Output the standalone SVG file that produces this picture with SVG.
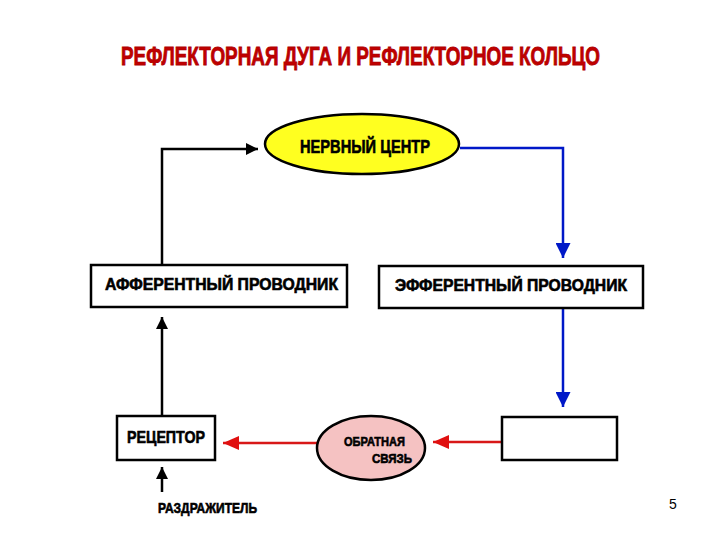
<svg xmlns="http://www.w3.org/2000/svg" width="720" height="540" viewBox="0 0 720 540">
<style>
.lbl{font-family:"Liberation Sans","DejaVu Sans",sans-serif;font-weight:bold;fill:#000;stroke:#000;stroke-width:0.6}
.box{fill:#fff;stroke:#000;stroke-width:2.5}
.blk{fill:none;stroke:#000;stroke-width:2.5}
.blu{fill:none;stroke:#0018C8;stroke-width:2.5}
.red{fill:none;stroke:#D81818;stroke-width:2.5}
</style>
<defs>
<marker id="ab" viewBox="0 0 12 12" refX="12" refY="6" markerWidth="12" markerHeight="12" markerUnits="userSpaceOnUse" orient="auto"><path d="M0,0 L12,6 L0,12 Z" fill="#000"/></marker>
<marker id="au" viewBox="0 0 15 15" refX="15" refY="7.5" markerWidth="15" markerHeight="15" markerUnits="userSpaceOnUse" orient="auto"><path d="M0,0 L15,7.5 L0,15 Z" fill="#0018C8"/></marker>
<marker id="ar" viewBox="0 0 16 14" refX="16" refY="7" markerWidth="16" markerHeight="14" markerUnits="userSpaceOnUse" orient="auto"><path d="M0,0 L16,7 L0,14 Z" fill="#E01010"/></marker>
</defs>
<rect width="720" height="540" fill="#fff"/>
<g id="title" transform="translate(0,65) scale(1,1.45)">
<text x="121" y="0" font-family="Liberation Sans, DejaVu Sans, sans-serif" font-weight="bold" font-size="18" fill="#C00000" stroke="#B00000" stroke-width="0.6" textLength="479" lengthAdjust="spacingAndGlyphs">РЕФЛЕКТОРНАЯ ДУГА И РЕФЛЕКТОРНОЕ КОЛЬЦО</text>
</g>
<g id="connectors">
<polyline class="blk" points="162,265 162,149 258,149" marker-end="url(#ab)"/>
<polyline class="blu" points="460,148 563,148 563,258" marker-end="url(#au)"/>
<line class="blu" x1="563" y1="308" x2="563" y2="407" marker-end="url(#au)"/>
<line class="blk" x1="162" y1="416" x2="162" y2="317" marker-end="url(#ab)"/>
<line class="blk" x1="162" y1="492" x2="162" y2="467" marker-end="url(#ab)"/>
<line class="red" x1="319" y1="443" x2="223" y2="443" marker-end="url(#ar)"/>
<line class="red" x1="502" y1="442" x2="433" y2="442" marker-end="url(#ar)"/>
</g>
<g id="nerve-center">
<ellipse cx="362" cy="144" rx="97" ry="30" fill="#FFFF20" stroke="#000" stroke-width="2.5"/>
<text x="300" y="153" class="lbl" font-size="18" textLength="130" lengthAdjust="spacingAndGlyphs">НЕРВНЫЙ ЦЕНТР</text>
</g>
<g id="afferent">
<rect class="box" x="91" y="265" width="256" height="42"/>
<text x="105" y="290" class="lbl" font-size="16" textLength="233" lengthAdjust="spacingAndGlyphs">АФФЕРЕНТНЫЙ ПРОВОДНИК</text>
</g>
<g id="efferent">
<rect class="box" x="379" y="266" width="264" height="42"/>
<text x="395" y="291" class="lbl" font-size="16" textLength="232" lengthAdjust="spacingAndGlyphs">ЭФФЕРЕНТНЫЙ ПРОВОДНИК</text>
</g>
<g id="receptor">
<rect class="box" x="117" y="416" width="98" height="44"/>
<text x="127" y="443" class="lbl" font-size="17" textLength="78" lengthAdjust="spacingAndGlyphs">РЕЦЕПТОР</text>
</g>
<g id="feedback">
<ellipse cx="371" cy="448" rx="54" ry="32" fill="#F5C2C2" stroke="#000" stroke-width="2.5"/>
<text x="344" y="446" class="lbl" font-size="13" textLength="61" lengthAdjust="spacingAndGlyphs">ОБРАТНАЯ</text>
<text x="372" y="463" class="lbl" font-size="13" textLength="40" lengthAdjust="spacingAndGlyphs">СВЯЗЬ</text>
</g>
<g id="effector">
<rect class="box" x="502" y="417" width="115" height="43"/>
</g>
<g id="stimulus">
<text x="158" y="513" class="lbl" font-size="14" textLength="99" lengthAdjust="spacingAndGlyphs">РАЗДРАЖИТЕЛЬ</text>
</g>
<text id="page" x="669" y="509" font-family="Liberation Sans, sans-serif" font-size="14" fill="#000">5</text>
</svg>
